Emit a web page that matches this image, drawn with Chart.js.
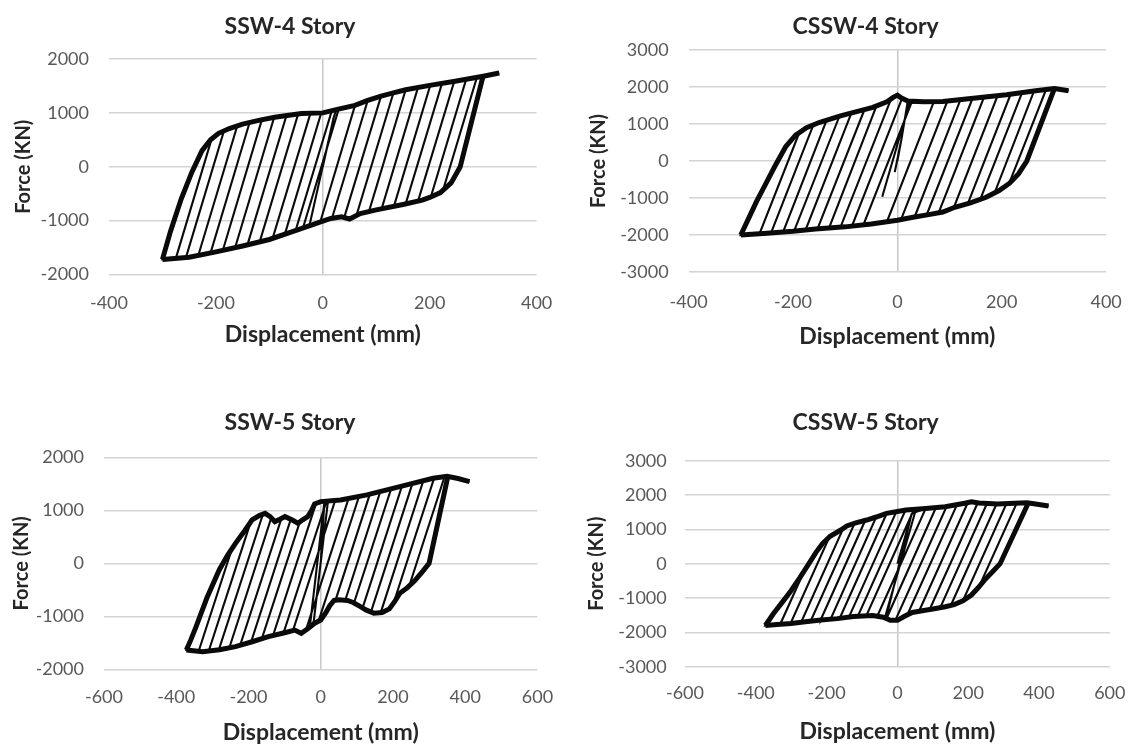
<!DOCTYPE html>
<html>
<head>
<meta charset="utf-8">
<script src="https://cdn.jsdelivr.net/npm/chart.js@4.4.0/dist/chart.umd.min.js"></script>
<style>
  html, body { margin: 0; padding: 0; background: #fff; overflow: hidden; }
  .painel { position: absolute; }
</style>
</head>
<body>
<div class="painel" style="left:0;top:0;width:570px;height:372px"><canvas id="g-ssw4"></canvas></div>
<div class="painel" style="left:570px;top:0;width:571px;height:372px"><canvas id="g-cssw4"></canvas></div>
<div class="painel" style="left:0;top:372px;width:570px;height:380px"><canvas id="g-ssw5"></canvas></div>
<div class="painel" style="left:570px;top:372px;width:571px;height:380px"><canvas id="g-cssw5"></canvas></div>
<script>
/* Curvas histereticas: [deslocamento (mm), forca (kN)] */

/* --- SSW-4 Story --- */
const SSW4_UPPER = [[-285,-1200],[-265,-600],[-245,-100],[-226,300],[-210,500],[-195,620],[-175,710],[-150,790],[-120,860],[-90,920],[-60,960],[-40,990],[0,1000],[25,1060],[60,1140],[84,1230],[109,1310],[132,1370],[155,1430],[200,1510],[250,1590],[300,1680],[330,1740]];
const SSW4_LOWER = [[257,0],[240,-300],[220,-480],[200,-570],[186,-620],[150,-700],[100,-800],[70,-870],[50,-970],[35,-930],[15,-960],[0,-1010],[-50,-1180],[-100,-1350],[-150,-1470],[-200,-1580],[-250,-1680],[-300,-1720]];
const SSW4_POS = [[20,900],[30,1080],[60,1130],[84,1230],[109,1310],[132,1370],[155,1430],[178,1470],[201,1510],[223,1550],[246,1590],[268,1620],[288,1650],[300,1690]];
const SSW4_FOOT = [[-25,-1090],[-37,-1133],[-5,-1030],[17,-960],[40,-945],[63,-900],[86,-840],[110,-780],[133,-734],[155,-690],[178,-640],[202,-562],[225,-432],[257,0]];
const SSW4_NEG = [[-25,-1090],[-37,-1133],[-51,-1185],[-71,-1252],[-94,-1332],[-118,-1390],[-141,-1450],[-164,-1500],[-187,-1551],[-210,-1600],[-233,-1648],[-256,-1684],[-275,-1700],[-300,-1720]];
const SSW4_TOP = [[20,900],[30,1080],[17,1044],[-3,998],[-23,995],[-46,983],[-68,950],[-91,918],[-114,872],[-137,820],[-160,760],[-185,664],[-208,516],[-285,-1200]];

/* --- CSSW-4 Story --- */
const CSSW4_UPPER = [[-285,-1550],[-270,-1100],[-255,-694],[-235,-150],[-214,387],[-195,700],[-174,900],[-150,1040],[-109,1220],[-80,1330],[-47,1450],[-20,1600],[-8,1720],[0,1780],[8,1700],[20,1620],[50,1600],[87,1610],[150,1700],[209,1790],[265,1900],[301,1960],[328,1900]];
const CSSW4_LOWER = [[248,0],[232,-350],[215,-600],[195,-800],[170,-980],[140,-1130],[110,-1250],[87,-1380],[60,-1450],[30,-1520],[0,-1600],[-50,-1700],[-100,-1780],[-157,-1840],[-200,-1900],[-250,-1950],[-300,-2000]];
const CSSW4_POS = [[8,600],[23,1560],[70,1605],[96,1625],[121,1660],[144,1690],[166,1724],[192,1764],[217,1806],[239,1850],[262,1895],[285,1933],[301,1964]];
const CSSW4_FOOT = [[-5,-300],[-29,-965],[-20,-1640],[7,-1582],[33,-1513],[56,-1458],[79,-1402],[108,-1260],[135,-1154],[159,-1030],[186,-872],[214,-610],[248,0]];
const CSSW4_NEG = [[-5,-300],[-29,-965],[-65,-1724],[-87,-1760],[-109,-1790],[-131,-1814],[-153,-1836],[-176,-1867],[-198,-1898],[-219,-1919],[-242,-1943],[-264,-1964],[-300,-2000]];
const CSSW4_TOP = [[8,600],[23,1560],[28,1615],[9,1693],[-12,1680],[-40,1489],[-63,1392],[-88,1300],[-111,1210],[-135,1127],[-161,975],[-188,763],[-285,-1550]];

/* --- SSW-5 Story --- */
const SSW5_UPPER = [[-360,-1450],[-345,-1195],[-315,-650],[-281,-126],[-258,150],[-236,377],[-210,620],[-190,818],[-170,900],[-154,943],[-140,880],[-127,786],[-113,830],[-99,880],[-80,820],[-63,755],[-50,820],[-36,880],[-25,1000],[-17,1120],[0,1164],[55,1195],[128,1290],[219,1447],[311,1604],[350,1640],[380,1600],[412,1540]];
const SSW5_LOWER = [[300,0],[280,-170],[260,-330],[240,-460],[219,-566],[205,-720],[190,-860],[170,-930],[147,-940],[125,-880],[110,-818],[90,-740],[74,-700],[50,-690],[37,-700],[25,-800],[15,-920],[0,-1070],[-17,-1130],[-35,-1230],[-54,-1320],[-72,-1260],[-100,-1310],[-145,-1384],[-190,-1480],[-236,-1572],[-280,-1630],[-327,-1667],[-372,-1635]];
const SSW5_POS = [[10,1150],[20,1170],[77,1222],[106,1261],[136,1304],[165,1354],[195,1406],[225,1457],[254,1507],[284,1558],[314,1608],[343,1635],[352,1640]];
const SSW5_FOOT = [[-30,-1190],[-20,-1140],[-41,-1259],[-6,-1091],[41,-696],[68,-697],[92,-749],[116,-842],[139,-920],[166,-932],[202,-746],[245,-428],[300,0]];
const SSW5_NEG = [[-30,-1190],[-20,-1140],[-77,-1270],[-103,-1315],[-132,-1363],[-163,-1421],[-193,-1486],[-223,-1546],[-253,-1594],[-282,-1632],[-310,-1654],[-338,-1660],[-372,-1635]];
const SSW5_TOP = [[10,1150],[20,1170],[40,1187],[16,1173],[-13,1131],[-58,778],[-83,829],[-109,843],[-137,855],[-160,926],[-194,778],[-245,290],[-360,-1450]];

/* --- CSSW-5 Story --- */
const CSSW5_UPPER = [[-350,-1450],[-325,-1120],[-300,-780],[-275,-400],[-250,0],[-230,330],[-211,594],[-190,800],[-160,981],[-143,1100],[-120,1180],[-87,1272],[-60,1360],[-31,1467],[0,1520],[24,1564],[80,1610],[135,1660],[190,1760],[209,1806],[230,1770],[283,1738],[330,1760],[366,1777],[390,1740],[427,1680]];
const CSSW5_LOWER = [[290,0],[268,-240],[246,-476],[228,-700],[209,-913],[185,-1080],[160,-1190],[135,-1252],[100,-1320],[70,-1370],[42,-1420],[20,-1530],[0,-1650],[-20,-1650],[-40,-1560],[-70,-1510],[-124,-1540],[-170,-1600],[-216,-1640],[-260,-1690],[-300,-1740],[-340,-1770],[-373,-1800]];
const CSSW5_POS = [[40,1450],[50,1500],[80,1610],[109,1636],[139,1668],[168,1713],[199,1782],[227,1775],[253,1756],[280,1740],[308,1751],[337,1763],[370,1775]];
const CSSW5_FOOT = [[-30,-1500],[-35,-1560],[-57,-1532],[-31,-1597],[-6,-1650],[28,-1485],[61,-1386],[91,-1334],[121,-1278],[151,-1210],[185,-1080],[231,-665],[290,0]];
const CSSW5_NEG = [[-30,-1500],[-35,-1560],[-88,-1519],[-112,-1533],[-137,-1557],[-163,-1590],[-189,-1617],[-217,-1641],[-245,-1672],[-272,-1704],[-302,-1742],[-331,-1762],[-373,-1800]];
const CSSW5_TOP = [[40,1450],[50,1500],[47,1583],[23,1563],[-3,1515],[-30,1470],[-60,1360],[-91,1259],[-121,1176],[-153,1030],[-192,780],[-263,-207],[-350,-1450]];

/* Eixos: [min, max, passo] */
const X_TICKS_4 = [-400, 400, 200];
const X_TICKS_5 = [-600, 600, 200];
const Y_TICKS_SSW = [-2000, 2000, 1000];
const Y_TICKS_CSSW = [-3000, 3000, 1000];

const FONTE = 'Lato, "Open Sans", sans-serif';
const xy = (p) => ({ x: p[0], y: p[1] });

/* Percorre os ciclos: pico +, descarga, ramo inferior, pico -, recarga, ramo superior */
function montarCaminho(c) {
  const pts = [{ x: 0, y: 0 }];
  const add = (p) => pts.push(xy(p));
  c.pos.forEach((p, i) => {
    add(p);
    add(c.foot[i]);
    c.lower.filter(q => q[0] < c.foot[i][0] && q[0] > c.neg[i][0]).forEach(add);
    add(c.neg[i]);
    add(c.top[i]);
    const limite = i + 1 < c.pos.length ? c.pos[i + 1][0] : Infinity;
    c.upper.filter(q => q[0] > c.top[i][0] && q[0] < limite).forEach(add);
  });
  return pts;
}

function criarGrafico(id, titulo, c, xt, yt, lay) {
  const ctx = document.getElementById(id);
  const traco = { showLine: true, borderColor: '#0a0a0a', pointRadius: 0, fill: false };
  /* faixas envoltorias (ciclos sobrepostos), a partir do ultimo pico */
  const faixaSup = [c.neg[c.neg.length - 1], ...c.upper].map(xy);
  const faixaInf = [c.pos[c.pos.length - 1], ...c.lower].map(xy);
  new Chart(ctx, {
    type: 'scatter',
    data: {
      datasets: [
        { ...traco, data: faixaSup, borderWidth: 5 },
        { ...traco, data: faixaInf, borderWidth: 5 },
        { ...traco, data: montarCaminho(c), borderWidth: 2.1 },
      ],
    },
    options: {
      responsive: true,
      maintainAspectRatio: false,
      animation: false,
      events: [],
      layout: { padding: lay.padding },
      plugins: {
        legend: { display: false },
        tooltip: { enabled: false },
        title: {
          display: true,
          text: titulo,
          color: '#262626',
          font: { family: FONTE, size: 23, weight: 'bold', lineHeight: 1.2 },
          padding: lay.titlePad,
        },
      },
      scales: {
        x: {
          type: 'linear',
          min: xt[0], max: xt[1],
          afterFit: (s) => { s.height = lay.xHeight; },
          border: { display: false },
          grid: {
            drawTicks: false,
            lineWidth: 1.5,
            color: (g) => (g.tick && g.tick.value === 0 ? '#c8c8c8' : 'rgba(0,0,0,0)'),
          },
          ticks: {
            stepSize: xt[2],
            padding: lay.xTickPad,
            color: '#595959',
            font: { family: FONTE, size: 18, lineHeight: 1.2 },
            callback: (v) => String(v),
          },
          title: {
            display: true,
            text: 'Displacement (mm)',
            color: '#262626',
            font: { family: FONTE, size: 23, weight: 'bold', lineHeight: 1.2 },
            padding: { top: 0, bottom: 0 },
          },
        },
        y: {
          type: 'linear',
          min: yt[0], max: yt[1],
          afterFit: (s) => { s.width = lay.yWidth; },
          border: { display: false },
          grid: { drawTicks: false, lineWidth: 1.5, color: '#d4d4d4' },
          ticks: {
            stepSize: yt[2],
            padding: lay.yTickPad,
            color: '#595959',
            font: { family: FONTE, size: 18, lineHeight: 1.2 },
            callback: (v) => String(v),
          },
          title: {
            display: true,
            text: 'Force (KN)',
            color: '#262626',
            font: { family: FONTE, size: 20, weight: 'bold', lineHeight: 1.2 },
            padding: { top: lay.yTitlePad, bottom: 0 },
          },
        },
      },
    },
  });
}

criarGrafico('g-ssw4', 'SSW-4 Story',
  { upper: SSW4_UPPER, lower: SSW4_LOWER, pos: SSW4_POS, foot: SSW4_FOOT, neg: SSW4_NEG, top: SSW4_TOP },
  X_TICKS_4, Y_TICKS_SSW,
  { padding: { left: 37, right: 27, top: 0, bottom: 23.2 }, titlePad: { top: 13.2, bottom: 18.2 },
    yWidth: 72, yTitlePad: -25.3, yTickPad: 20, xHeight: 74.3, xTickPad: 17.7 });

criarGrafico('g-cssw4', 'CSSW-4 Story',
  { upper: CSSW4_UPPER, lower: CSSW4_LOWER, pos: CSSW4_POS, foot: CSSW4_FOOT, neg: CSSW4_NEG, top: CSSW4_TOP },
  X_TICKS_4, Y_TICKS_CSSW,
  { padding: { left: 36.5, right: 16.3, top: 0, bottom: 21.2 }, titlePad: { top: 13.2, bottom: 9.2 },
    yWidth: 82.1, yTitlePad: -19.5, yTickPad: 20, xHeight: 78.8, xTickPad: 19.2 });

criarGrafico('g-ssw5', 'SSW-5 Story',
  { upper: SSW5_UPPER, lower: SSW5_LOWER, pos: SSW5_POS, foot: SSW5_FOOT, neg: SSW5_NEG, top: SSW5_TOP },
  X_TICKS_5, Y_TICKS_SSW,
  { padding: { left: 37, right: 27, top: 0, bottom: 5.2 }, titlePad: { top: 37.2, bottom: 20.5 },
    yWidth: 67, yTitlePad: -27, yTickPad: 20, xHeight: 77.5, xTickPad: 16.9 });

criarGrafico('g-cssw5', 'CSSW-5 Story',
  { upper: CSSW5_UPPER, lower: CSSW5_LOWER, pos: CSSW5_POS, foot: CSSW5_FOOT, neg: CSSW5_NEG, top: CSSW5_TOP },
  X_TICKS_5, Y_TICKS_CSSW,
  { padding: { left: 43.8, right: 23.6, top: 0, bottom: 6.2 }, titlePad: { top: 37.2, bottom: 23.9 },
    yWidth: 71.2, yTitlePad: -28.8, yTickPad: 18.3, xHeight: 79.1, xTickPad: 15.5 });
</script>
</body>
</html>
